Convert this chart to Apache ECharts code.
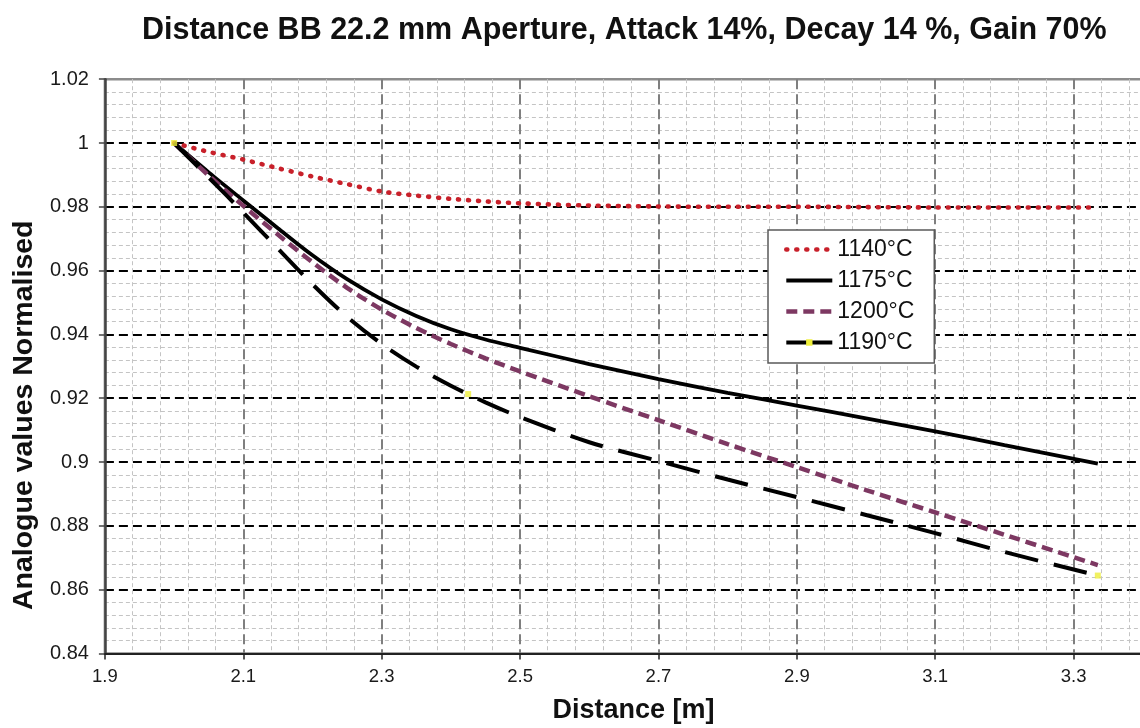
<!DOCTYPE html>
<html><head><meta charset="utf-8">
<script src="https://cdn.jsdelivr.net/npm/echarts@6.0.0/dist/echarts.min.js"></script>
<style>html,body{margin:0;padding:0;background:#fff}#c{width:1140px;height:728px}</style>
</head><body><div id="c"></div>
<script>
// Distance [m]
const distance = [2.0, 2.05, 2.1, 2.15, 2.2, 2.25, 2.3, 2.35, 2.4, 2.45, 2.5, 2.6, 2.7, 2.8, 2.9, 3.0, 3.1, 3.2, 3.335];
// Normalised analogue values per temperature
const s1140 = [1.0, 0.9972, 0.9948, 0.9921, 0.9895, 0.9871, 0.9848, 0.9835, 0.9825, 0.9817, 0.9811, 0.9804, 0.9801, 0.98, 0.98, 0.9799, 0.9798, 0.9798, 0.9798];
const s1175 = [1.0, 0.9908, 0.982, 0.9733, 0.9648, 0.9573, 0.951, 0.9458, 0.9416, 0.9384, 0.9358, 0.9307, 0.926, 0.9217, 0.9177, 0.9137, 0.9096, 0.9053, 0.8995];
const s1200 = [1.0, 0.9898, 0.9803, 0.9713, 0.9626, 0.9546, 0.9478, 0.942, 0.937, 0.9325, 0.9284, 0.9206, 0.9131, 0.9056, 0.8984, 0.8912, 0.8842, 0.8772, 0.8677];
const s1190 = [1.0, 0.9892, 0.9782, 0.9669, 0.9557, 0.9455, 0.937, 0.9299, 0.9239, 0.9187, 0.9141, 0.9062, 0.9003, 0.8945, 0.889, 0.8834, 0.8777, 0.8718, 0.8644];
// yellow markers on the 1190°C series
const markerDist = [2.0, 2.425, 3.335];
const markerVal = [1.0, 0.9213, 0.8644];
const seriesNames = ['1140°C', '1175°C', '1200°C', '1190°C'];

const FONT = 'Liberation Sans, Arial, sans-serif';
const YELLOW = '#eeee3a';
const pair = (xs, ys) => xs.map((x, i) => [x, ys[i]]);

const chart = echarts.init(document.getElementById('c'), null, {renderer: 'canvas'});
chart.setOption({
  animation: false,
  backgroundColor: '#fff',
  title: {
    text: 'Distance BB 22.2 mm Aperture, Attack 14%, Decay 14 %, Gain 70%',
    left: 142, top: 15, padding: 0,
    textStyle: {fontSize: 30.5, fontWeight: 'bold', color: '#111', fontFamily: FONT}
  },
  grid: {left: 104.9, right: -72, top: 79.2, bottom: 74.6, show: true,
    outerBoundsMode: 'none', containLabel: false,
    borderColor: '#8c8c8c', borderWidth: 2.5, backgroundColor: 'transparent'},
  legend: {
    orient: 'vertical', left: 768, top: 230,
    data: seriesNames.slice(0, 3).concat([{name: seriesNames[3], lineStyle: {type: 'solid'},
      itemStyle: {opacity: 1, color: YELLOW}}]),
    itemWidth: 46, itemHeight: 8, itemGap: 8,
    padding: [8, 20, 9, 16],
    backgroundColor: '#fff', borderColor: '#5a5a5a', borderWidth: 1.5,
    textStyle: {fontSize: 23, color: '#111', fontFamily: FONT},
    itemStyle: {opacity: 0},
    lineStyle: {width: 'inherit'}
  },
  xAxis: {
    type: 'value', min: 1.9, max: 3.5, interval: 0.2,
    axisLine: {show: true, lineStyle: {color: '#222', width: 2}},
    axisTick: {show: true, length: 6, lineStyle: {color: '#222', width: 1.5}},
    axisLabel: {fontSize: 18.5, color: '#1a1a1a', margin: 14, fontFamily: FONT},
    splitLine: {show: true, showMinLine: false, lineStyle: {color: '#7f7f7f', width: 2, type: [10, 5]}},
    minorTick: {show: false, splitNumber: 5},
    minorSplitLine: {show: true, lineStyle: {color: '#c4c4c4', width: 1, type: [4, 3]}},
    name: 'Distance [m]', nameLocation: 'middle', nameGap: 44,
    nameTextStyle: {fontSize: 27, fontWeight: 'bold', color: '#111', fontFamily: FONT, padding: [0, 50, 0, 0]}
  },
  yAxis: {
    type: 'value', min: 0.84, max: 1.02, interval: 0.02,
    axisLine: {show: true, lineStyle: {color: '#444', width: 2.5}},
    axisTick: {show: true, length: 6, lineStyle: {color: '#444', width: 1.5}},
    axisLabel: {fontSize: 20, color: '#1a1a1a', margin: 16, fontFamily: FONT},
    splitLine: {show: true, showMinLine: false, showMaxLine: false, lineStyle: {color: '#000', width: 1.8, type: [9, 5]}},
    minorTick: {show: false, splitNumber: 5},
    minorSplitLine: {show: true, lineStyle: {color: '#c4c4c4', width: 1, type: [4, 3]}},
    name: 'Analogue values Normalised', nameLocation: 'middle', nameGap: 62, nameRotate: 90,
    nameTextStyle: {fontSize: 28.5, fontWeight: 'bold', color: '#111', fontFamily: FONT, padding: [0, 98, 0, 0]}
  },
  series: [
    {name: seriesNames[0], type: 'line', smooth: 0.3, symbol: 'none', data: pair(distance, s1140),
      lineStyle: {color: '#c8202a', width: 4.6, type: [1, 9], cap: 'round'}, itemStyle: {color: '#c8202a'}},
    {name: seriesNames[1], type: 'line', smooth: 0.3, symbol: 'none', data: pair(distance, s1175),
      lineStyle: {color: '#000', width: 3.8}, itemStyle: {color: '#000'}},
    {name: seriesNames[2], type: 'line', smooth: 0.3, symbol: 'none', data: pair(distance, s1200),
      lineStyle: {color: '#7d3862', width: 4.5, type: [11, 6]}, itemStyle: {color: '#7d3862'}},
    {name: seriesNames[3], type: 'line', smooth: 0.3, symbol: 'rect', symbolSize: 5, showSymbol: false,
      data: pair(distance, s1190),
      lineStyle: {color: '#000', width: 4, type: [34, 16]}, itemStyle: {color: YELLOW}},
    {name: seriesNames[3], type: 'scatter', symbol: 'rect', symbolSize: 6, z: 5,
      data: pair(markerDist, markerVal), itemStyle: {color: YELLOW}}
  ]
});
</script></body></html>
